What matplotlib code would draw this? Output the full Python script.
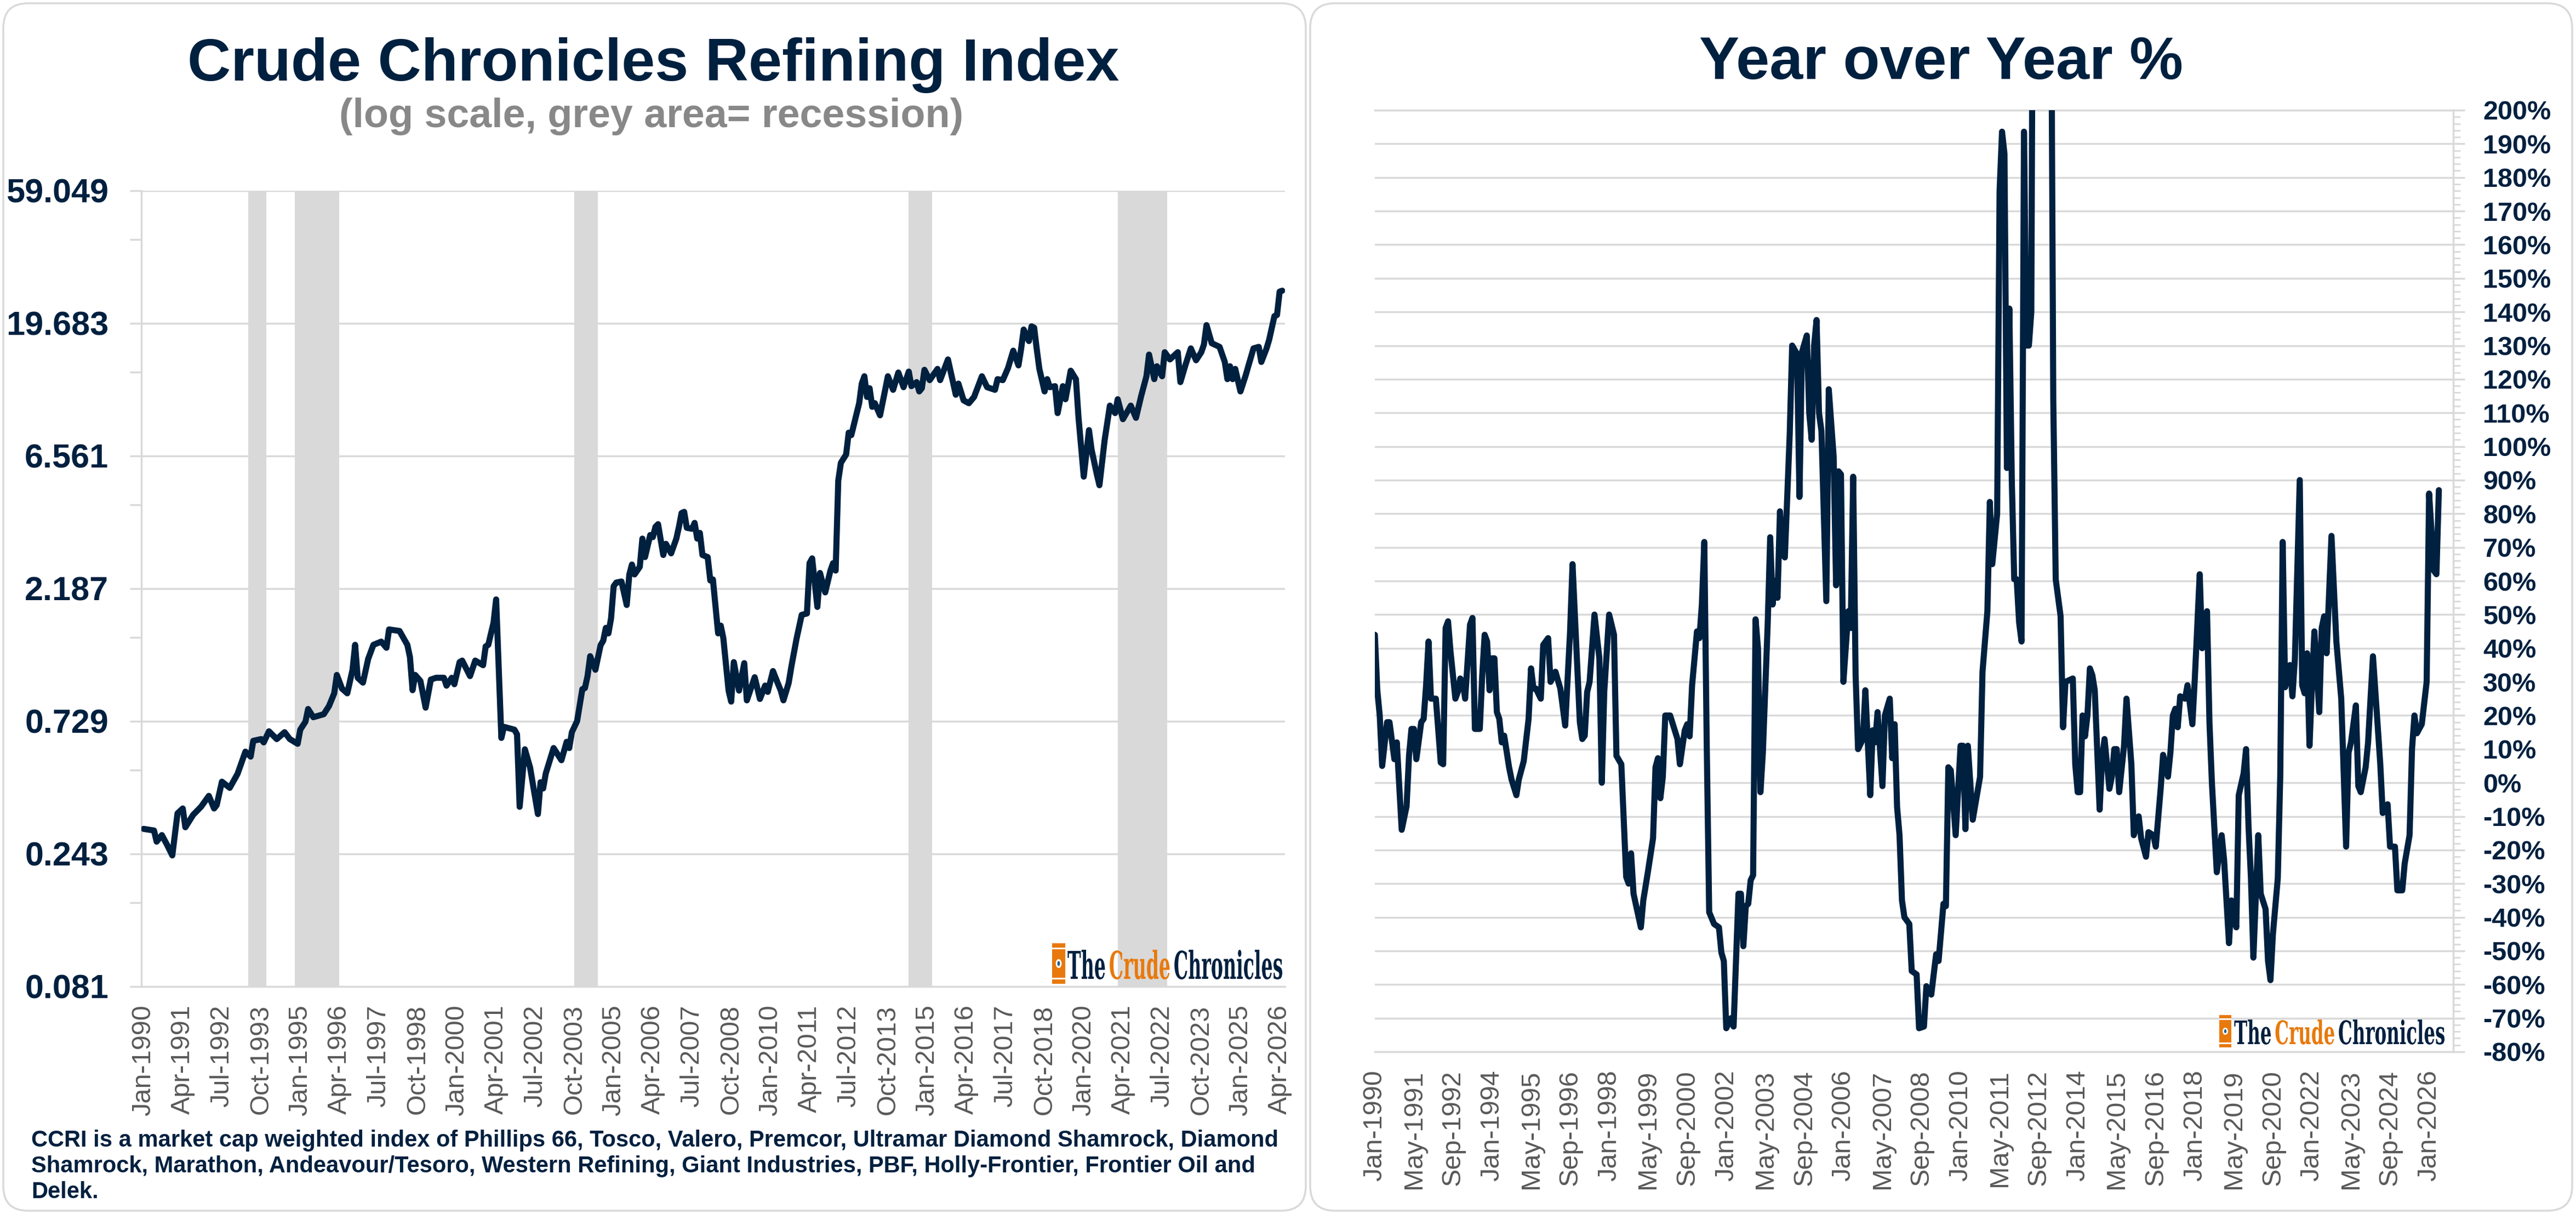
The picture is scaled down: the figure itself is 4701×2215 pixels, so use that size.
import matplotlib
matplotlib.use("Agg")
import matplotlib.pyplot as plt
from matplotlib.ticker import NullFormatter, MultipleLocator, FixedLocator
from matplotlib.patches import FancyBboxPatch, Rectangle, Ellipse, PathPatch
from matplotlib.textpath import TextPath
from matplotlib.font_manager import FontProperties
import matplotlib.transforms as mtransforms

plt.rcParams['font.family'] = ['Liberation Sans', 'DejaVu Sans']

# ---------------- data ----------------
# month index: 0 = Jan-1990
ccri_month = [0, 4, 5, 7, 9, 11, 13, 15, 16, 19,
              22, 25, 27, 28, 30, 33, 36, 39, 41, 42,
              45, 46, 48, 51, 54, 56, 59, 60, 62, 63,
              65, 69, 71, 73, 74, 76, 78, 80, 81, 82,
              84, 86, 88, 91, 93, 94, 98, 101, 102, 103,
              104, 106, 108, 110, 112, 115, 116, 118, 119, 121,
              122, 125, 127, 130, 131, 132, 134, 135, 137, 138,
              142, 143, 144, 146, 148, 151, 152, 153, 154, 157,
              160, 162, 163, 164, 166, 168, 169, 170, 171, 173,
              175, 176, 177, 178, 179, 180, 181, 183, 185, 186,
              187, 188, 190, 191, 192, 194, 195, 196, 197, 199,
              200, 202, 204, 205, 206, 207, 208, 210, 211, 212,
              213, 214, 216, 217, 218, 220, 221, 222, 224, 225,
              226, 228, 230, 231, 234, 236, 238, 239, 241, 243,
              244, 245, 247, 248, 250, 252, 254, 255, 256, 258,
              259, 261, 263, 264, 265, 266, 267, 269, 270, 271,
              274, 275, 276, 277, 278, 279, 280, 282, 285, 287,
              289, 291, 293, 294, 296, 297, 298, 299, 301, 304,
              305, 308, 311, 312, 314, 316, 318, 321, 323, 326,
              327, 329, 331, 333, 335, 336, 337, 339, 340, 341,
              342, 343, 345, 346, 347, 349, 350, 352, 353, 355,
              357, 358, 360, 362, 363, 365, 366, 368, 370, 372,
              373, 375, 378, 380, 382, 384, 385, 387, 388, 390,
              391, 393, 396, 397, 399, 401, 403, 405, 406, 407,
              409, 412, 414, 415, 416, 417, 418, 420, 422, 423,
              425, 427, 428, 430, 431, 433, 434, 435, 436]
ccri_value = [0.299, 0.295, 0.269, 0.284, 0.262, 0.240, 0.340, 0.354, 0.303, 0.336,
              0.359, 0.393, 0.354, 0.364, 0.442, 0.420, 0.472, 0.567, 0.544, 0.620,
              0.629, 0.612, 0.671, 0.629, 0.666, 0.629, 0.605, 0.680, 0.727, 0.807,
              0.754, 0.773, 0.827, 0.919, 1.07, 0.955, 0.919, 1.115, 1.373, 1.045,
              1.004, 1.222, 1.373, 1.41, 1.34, 1.56, 1.54, 1.373, 1.24, 0.943,
              1.07, 1.018, 0.816, 1.03, 1.045, 1.045, 0.979, 1.045, 0.991, 1.19,
              1.205, 1.06, 1.205, 1.16, 1.356, 1.373, 1.65, 2.00, 0.635, 0.696,
              0.680, 0.654, 0.359, 0.578, 0.497, 0.338, 0.440, 0.418, 0.473, 0.584,
              0.528, 0.615, 0.584, 0.666, 0.73, 0.951, 0.96, 1.06, 1.25, 1.117,
              1.37, 1.42, 1.58, 1.51, 1.71, 2.23, 2.30, 2.32, 1.91, 2.46,
              2.67, 2.46, 2.62, 3.31, 2.84, 3.41, 3.35, 3.65, 3.73, 2.89,
              3.17, 2.93, 3.31, 3.65, 4.09, 4.13, 3.62, 3.59, 3.77, 3.31,
              3.47, 2.89, 2.84, 2.34, 2.36, 1.51, 1.61, 1.45, 0.94, 0.858,
              1.19, 0.94, 1.18, 0.867, 1.05, 0.877, 0.98, 0.93, 1.105, 0.99,
              0.94, 0.867, 1.0, 1.14, 1.44, 1.76, 1.78, 2.70, 2.81, 1.88,
              2.49, 2.12, 2.54, 2.70, 2.54, 5.35, 6.2, 6.64, 7.96, 7.80,
              10.16, 11.95, 12.7, 10.7, 11.5, 9.86, 10.16, 9.19, 12.7, 11.35,
              13.1, 11.6, 13.2, 11.7, 12.1, 11.2, 11.5, 13.4, 12.3, 13.5,
              12.3, 14.6, 10.9, 11.95, 10.4, 10.16, 10.7, 12.7, 11.6, 11.35,
              12.4, 12.3, 13.6, 15.7, 13.9, 15.9, 18.7, 17.0, 19.2, 19.0,
              15.9, 13.5, 11.2, 12.4, 11.6, 11.7, 9.36, 11.7, 10.5, 13.3,
              12.4, 9.0, 5.53, 8.13, 6.91, 5.64, 5.15, 7.49, 9.96, 9.36,
              10.5, 8.9, 9.96, 9.0, 10.8, 12.7, 15.2, 12.4, 13.8, 12.7,
              15.5, 14.6, 15.5, 12.1, 14.0, 16.0, 14.5, 15.5, 16.5, 19.4,
              16.7, 16.2, 14.3, 12.4, 13.8, 12.4, 13.5, 11.2, 12.8, 13.8,
              16.0, 16.2, 14.3, 16.0, 17.2, 20.9, 21.1, 25.6, 25.8]

recession_start = [40, 58, 165, 293, 373]
recession_end = [47, 75, 174, 302, 392]

yoy_month = [0, 1, 2, 3, 5, 6, 8, 9, 11, 13,
             14, 15, 16, 17, 19, 20, 21, 22, 23, 25,
             27, 28, 29, 30, 31, 33, 34, 35, 36, 37,
             39, 40, 41, 43, 44, 45, 46, 47, 48, 49,
             50, 51, 52, 53, 55, 56, 58, 59, 61, 63,
             64, 65, 66, 68, 69, 71, 72, 74, 76, 78,
             80, 81, 84, 85, 86, 87, 88, 90, 92, 93,
             94, 96, 98, 99, 101, 103, 104, 105, 106, 109,
             110, 112, 114, 115, 116, 117, 118, 119, 121, 124,
             125, 127, 128, 129, 130, 132, 133, 134, 135, 136,
             137, 139, 141, 142, 143, 144, 146, 147, 149, 150,
             151, 152, 153, 154, 155, 156, 157, 158, 159, 161,
             162, 163, 164, 165, 166, 167, 168, 170, 171, 173,
             174, 175, 177, 178, 179, 180, 181, 182, 183, 185,
             186, 188, 189, 190, 191, 192, 194, 195, 196, 197,
             198, 200, 201, 203, 204, 205, 206, 208, 209, 211,
             212, 213, 214, 215, 216, 217, 219, 220, 222, 223,
             225, 226, 228, 230, 231, 233, 234, 235, 236, 238,
             240, 241, 242, 243, 245, 248, 249, 251, 252, 253,
             255, 256, 257, 258, 259, 260, 261, 262, 263, 264,
             265, 266, 267, 268, 269, 270, 272, 274, 276, 277,
             278, 279, 281, 282, 283, 286, 287, 288, 289, 290,
             291, 292, 293, 294, 295, 297, 298, 299, 301, 302,
             303, 304, 305, 307, 308, 310, 311, 313, 314, 316,
             317, 319, 320, 322, 323, 325, 326, 327, 328, 329,
             330, 332, 333, 335, 336, 338, 339, 341, 342, 343,
             345, 347, 348, 350, 351, 353, 354, 356, 357, 358,
             359, 360, 362, 363, 365, 366, 367, 368, 370, 371,
             372, 373, 375, 376, 377, 379, 380, 381, 382, 383,
             384, 385, 387, 388, 389, 390, 392, 394, 396, 398,
             399, 400, 402, 403, 404, 406, 407, 408, 409, 412,
             413, 415, 416, 418, 419, 421, 422, 424, 425, 426,
             427, 429, 431, 432, 434, 435, 436]
yoy_pct = [44, 27.5, 20, 5, 18, 18, 7, 12, -14, -7,
           8, 16, 16, 7, 18, 19, 29, 42, 25, 25,
           6, 5.5, 46, 48, 39, 25, 27, 31, 30, 25,
           47, 49, 16, 16, 32, 44, 42, 27.5, 37, 37,
           21, 19, 12, 14, 4.6, 1, -3.7, 1, 6.4, 19,
           34, 28, 28, 25, 41, 43, 30, 33, 28, 17,
           45, 65, 18, 13, 14, 27, 30, 50, 37, 0,
           27, 50, 44, 8, 5.5, -28, -30, -21, -33, -43,
           -35, -26, -16.5, 4.6, 7.3, -4.6, 1.8, 20, 20, 13,
           5.5, 15.6, 17.4, 13.8, 29, 45, 43, 53, 71.6, 11,
           -38.5, -42, -43, -50.5, -53, -73, -70, -72.5, -33, -33,
           -48.6, -36.7, -36, -29, -27.5, 48.6, 40, -2.8, 9, 47.7,
           73, 53, 60, 55, 80.7, 68, 67, 103.7, 130, 127.5,
           85, 128, 133, 110, 102, 130, 137.6, 110, 104.6, 54,
           117, 97, 58.7, 92.6, 91.7, 30, 51, 46, 91, 32,
           10, 13, 27.5, -3.7, 15.6, 12, 21, -1, 20, 25,
           7.3, 17.4, -7.3, -15.6, -35, -40, -42, -56, -57, -73,
           -72.5, -60.5, -63, -51, -53, -36, -36.7, 4.6, 3.7, -15.6,
           11, 11, -13.8, 11, -11, 1.8, 33, 51, 83.5, 65,
           80, 176, 193.6, 187, 93.6, 141, 90, 60.5, 60.5, 47.7,
           42, 193.6, 130, 130, 140, 320, 340, 340, 400, 260,
           114, 60.5, 49.5, 16.5, 30, 31, 5.5, -2.8, -2.8, 20,
           13.8, 20, 34, 32, 27.5, -8, 7.3, 13, -1.8, 1.8,
           10, 10, -2.8, 11, 25, 5.5, -15.6, -10, -16.5, -22,
           -14.7, -15.6, -19, -1.8, 8.3, 1.8, 9, 20, 22, 16.5,
           25.7, 25, 29, 17.4, 31, 62, 40, 51, 18, 0,
           -26.6, -15.6, -23, -47.7, -35, -43, -3.7, 2.8, 10, -12.8,
           -28.4, -52, -15.6, -33, -37.6, -53, -58.7, -45, -28.4, 1.8,
           71.6, 28.4, 35, 25.7, 36.7, 90, 29, 26.6, 38.5, 11,
           29, 45, 21, 46, 49.5, 38.5, 73.4, 42, 25, -19,
           9, 12, 23, -1, -2.8, 4.6, 12, 25, 37.6, 5.5,
           -9, -6.4, -19, -19, -32, -32, -24, -15.6, 10, 20,
           14.7, 17.4, 30, 86, 63, 62, 87]

ccri_ticks_y = [0.081, 0.243, 0.729, 2.187, 6.561, 19.683, 59.049]
ccri_ticks_y_labels = ["0.081", "0.243", "0.729", "2.187", "6.561", "19.683", "59.049"]
ccri_minor_y = [0.162, 0.486, 1.458, 4.374, 13.122, 39.366]
ccri_tick_labels = ["Jan-1990", "Apr-1991", "Jul-1992", "Oct-1993", "Jan-1995", "Apr-1996",
                    "Jul-1997", "Oct-1998", "Jan-2000", "Apr-2001", "Jul-2002", "Oct-2003",
                    "Jan-2005", "Apr-2006", "Jul-2007", "Oct-2008", "Jan-2010", "Apr-2011",
                    "Jul-2012", "Oct-2013", "Jan-2015", "Apr-2016", "Jul-2017", "Oct-2018",
                    "Jan-2020", "Apr-2021", "Jul-2022", "Oct-2023", "Jan-2025", "Apr-2026"]
yoy_tick_labels = ["Jan-1990", "May-1991", "Sep-1992", "Jan-1994", "May-1995", "Sep-1996",
                   "Jan-1998", "May-1999", "Sep-2000", "Jan-2002", "May-2003", "Sep-2004",
                   "Jan-2006", "May-2007", "Sep-2008", "Jan-2010", "May-2011", "Sep-2012",
                   "Jan-2014", "May-2015", "Sep-2016", "Jan-2018", "May-2019", "Sep-2020",
                   "Jan-2022", "May-2023", "Sep-2024", "Jan-2026"]
yoy_ticks_y = list(range(-80, 201, 10))

left_title = "Crude Chronicles Refining Index"
left_subtitle = "(log scale, grey area= recession)"
right_title = "Year over Year %"
footnote_lines = [
    "CCRI is a market cap weighted index of Phillips 66, Tosco, Valero, Premcor, Ultramar Diamond Shamrock, Diamond",
    "Shamrock, Marathon, Andeavour/Tesoro, Western Refining, Giant Industries, PBF, Holly-Frontier, Frontier Oil and",
    "Delek.",
]

# ---------------- style ----------------
NAVY = '#00203f'
GRID = '#d9d9d9'
TICKGREY = '#595959'
ORANGE = '#e8790c'
W, H = 4701, 2215

fig = plt.figure(figsize=(W / 100, H / 100), dpi=100)
fig.patch.set_facecolor('white')
ident = mtransforms.IdentityTransform()


def frac(x0, y0, x1, y1):
    return [x0 / W, 1 - y1 / H, (x1 - x0) / W, (y1 - y0) / H]


# panel borders
for (x0, x1) in [(6, 2383), (2391, 4694)]:
    p = FancyBboxPatch((x0, H - 2209), x1 - x0, 2209 - 6,
                       boxstyle="round,pad=0,rounding_size=45",
                       transform=ident, fc='white', ec=GRID, lw=2.5, zorder=-5)
    fig.add_artist(p)

# ---------------- left chart ----------------
ax1 = fig.add_axes(frac(258, 348, 2345, 1800))
ax1.set_facecolor('none')
ax1.set_yscale('log', base=3)
ax1.set_ylim(0.081, 59.049)
ax1.set_xlim(-0.84, 437.05)
ax1.set_axisbelow(True)
for s, e in zip(recession_start, recession_end):
    ax1.axvspan(s, e, color=GRID, lw=0, zorder=1)
ax1.plot(ccri_month, ccri_value, color=NAVY, lw=8, solid_joinstyle='round',
         solid_capstyle='round', zorder=3)
ax1.yaxis.set_major_locator(FixedLocator(ccri_ticks_y))
ax1.set_yticklabels(ccri_ticks_y_labels, fontsize=44, fontweight='bold', color=NAVY)
ax1.yaxis.set_minor_locator(FixedLocator(ccri_minor_y))
ax1.yaxis.set_minor_formatter(NullFormatter())
ax1.tick_params(axis='y', which='both', length=15, width=2.5, color=GRID, pad=28)
ax1.grid(axis='y', which='major', color=GRID, lw=2.5)
ax1.set_xticks(range(0, 436, 15))
ax1.set_xticklabels(ccri_tick_labels, rotation=90, fontsize=35, color=TICKGREY,
                    ha='center', va='top')
ax1.tick_params(axis='x', length=0, pad=24)
for sp in ['top', 'right']:
    ax1.spines[sp].set_visible(False)
for sp in ['left', 'bottom']:
    ax1.spines[sp].set_color(GRID)
    ax1.spines[sp].set_linewidth(2.5)

# ---------------- right chart ----------------
ax2 = fig.add_axes(frac(2509, 201, 4477, 1919))
ax2.set_facecolor('none')
ax2.set_ylim(-80, 200)
ax2.set_xlim(0, 441.9)
ax2.set_axisbelow(True)
ax2.plot(yoy_month, yoy_pct, color=NAVY, lw=8, solid_joinstyle='round',
         solid_capstyle='round', zorder=3)
ax2.yaxis.tick_right()
ax2.set_yticks(yoy_ticks_y)
ax2.set_yticklabels([f"{v}%" for v in yoy_ticks_y], fontsize=35, fontweight='bold',
                    color=NAVY, ha='left')
ax2.yaxis.set_minor_locator(MultipleLocator(2))
ax2.tick_params(axis='y', which='major', length=15, width=2.5, color=GRID, pad=24)
ax2.tick_params(axis='y', which='minor', length=9, width=2.0, color=GRID)
ax2.grid(axis='y', which='major', color=GRID, lw=2.5)
ax2.set_xticks(range(0, 433, 16))
ax2.set_xticklabels(yoy_tick_labels, rotation=90, fontsize=35, color=TICKGREY,
                    ha='center', va='top')
ax2.tick_params(axis='x', length=0, pad=24)
ax2.spines['left'].set_visible(False)
for sp in ['top', 'bottom', 'right']:
    ax2.spines[sp].set_color(GRID)
    ax2.spines[sp].set_linewidth(2.5)

# ---------------- titles & notes ----------------
fig.text(1192 / W, 1 - 147 / H, left_title, ha='center', va='baseline',
         fontsize=79, fontweight='bold', color=NAVY)
fig.text(1189 / W, 1 - 232 / H, left_subtitle, ha='center', va='baseline',
         fontsize=53, fontweight='bold', color='#888888')
fig.text(3542 / W, 1 - 144 / H, right_title, ha='center', va='baseline',
         fontsize=79, fontweight='bold', color=NAVY)
for i, line in enumerate(footnote_lines):
    fig.text(57 / W, 1 - (2092 + 47 * i) / H, line, ha='left', va='baseline',
             fontsize=30, fontweight='bold', color=NAVY)


# ---------------- logos ----------------
def draw_logo(ix0, ix1, iy0, iy1, tx0, tx1, base_y, cap_h):
    # barrel icon
    bw, bh = ix1 - ix0, iy1 - iy0
    fig.add_artist(Rectangle((ix0, H - iy1), bw, bh, transform=ident,
                             fc=ORANGE, ec='none', zorder=5))
    for fy in (0.13, 0.87):
        fig.add_artist(Rectangle((ix0, H - iy1 + fy * bh - 1.5), bw, 3, transform=ident,
                                 fc='white', ec='none', zorder=6))
    fig.add_artist(Ellipse((ix0 + bw / 2, H - iy1 + bh / 2), bw * 0.45, bh * 0.22,
                           transform=ident, fc='white', ec='none', zorder=6))
    fig.add_artist(Ellipse((ix0 + bw / 2, H - iy1 + bh / 2), bw * 0.2, bh * 0.12,
                           transform=ident, fc='#1f5f8b', ec='none', zorder=7))
    # text
    fp = FontProperties(family='DejaVu Serif', weight='bold')
    parts = [("The", NAVY), ("Crude", ORANGE), ("Chronicles", NAVY)]
    paths = [TextPath((0, 0), s, size=100, prop=fp) for s, _ in parts]
    widths = [p.get_extents().x1 for p in paths]
    space = 22
    total = sum(widths) + space * (len(parts) - 1)
    cap = TextPath((0, 0), "T", size=100, prop=fp).get_extents().y1
    sx = (tx1 - tx0) / total
    sy = cap_h / cap
    xoff = 0
    for pth, (s, c), w in zip(paths, parts, widths):
        tr = mtransforms.Affine2D().translate(xoff, 0).scale(sx, sy).translate(tx0, H - base_y)
        fig.add_artist(PathPatch(pth, transform=tr, fc=c, ec='none', zorder=6))
        xoff += w + space


draw_logo(1920, 1944, 1721, 1795, 1948, 2340, 1786, 51)
draw_logo(4050, 4072, 1852, 1911, 4077, 4461, 1905, 43)

fig.savefig('out.png', dpi=100, facecolor='white')
